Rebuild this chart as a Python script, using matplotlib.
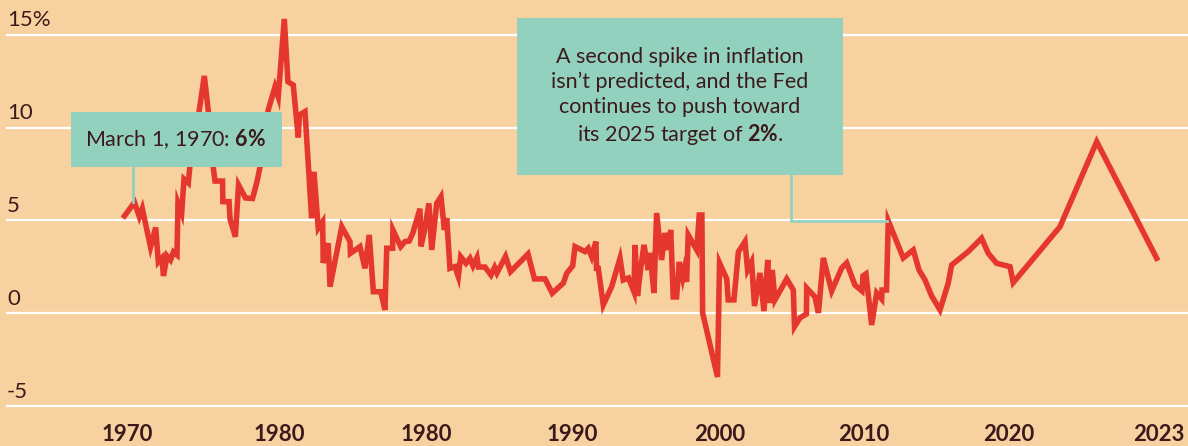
import matplotlib
matplotlib.use("Agg")
import matplotlib.pyplot as plt
from matplotlib.patches import Rectangle

# -----------------------------
# DATA (position along axis, inflation %)
# -----------------------------

pos = [-0.17, 0.51, 0.84, 1.04, 1.60, 1.95, 2.13, 2.38, 2.48, 2.72, 2.96, 3.16, 3.40, 3.47,
       3.72, 3.88, 4.17, 4.32, 4.92, 5.26, 5.53, 5.87, 5.99, 6.50, 6.52, 6.94, 7.01, 7.37,
       7.59, 8.06, 8.54, 8.84, 9.05, 9.61, 10.07, 10.29, 10.70, 10.95, 11.31, 11.65, 11.73,
       12.11, 12.56, 12.72, 13.01, 13.31, 13.35, 13.69, 13.81, 14.61, 15.17, 15.20, 15.85,
       16.19, 16.48, 16.76, 17.26, 17.55, 17.67, 18.07, 18.09, 18.62, 18.91, 19.20, 19.44,
       19.93, 20.00, 20.22, 20.54, 20.73, 21.07, 21.36, 21.59, 21.75, 21.97, 22.31, 22.54,
       22.70, 23.06, 23.33, 23.54, 23.81, 23.91, 24.35, 24.76, 25.01, 25.17, 25.75, 26.09,
       27.28, 27.72, 28.44, 28.93, 29.68, 29.91, 30.32, 30.48, 31.16, 31.38, 31.61, 31.90,
       31.94, 32.06, 32.40, 32.97, 33.54, 33.76, 34.12, 34.49, 34.56, 34.73, 34.95, 35.17,
       35.46, 35.58, 35.85, 36.03, 36.37, 36.60, 36.82, 36.99, 37.16, 37.39, 37.57, 37.80,
       37.91, 38.07, 38.18, 38.76, 38.93, 39.11, 39.16, 40.17, 40.31, 40.80, 40.90, 41.29,
       41.59, 42.04, 42.22, 42.49, 42.69, 43.06, 43.33, 43.59, 43.74, 43.90, 44.08, 44.88,
       45.33, 45.41, 45.78, 46.22, 46.24, 46.80, 47.04, 47.37, 47.94, 48.62, 48.96, 49.52,
       50.00, 50.07, 50.27, 50.66, 51.00, 51.34, 51.36, 51.67, 51.79, 52.81, 53.49, 53.88,
       54.29, 54.74, 55.31, 55.87, 56.10, 57.23, 58.14, 58.59, 59.16, 60.07, 60.29, 63.47,
       65.97, 70.05]

rate = [5.24, 5.97, 5.20, 5.64, 3.57, 4.62, 2.76, 2.98, 2.01, 3.09, 2.87, 3.30, 3.14, 5.94,
        5.40, 7.23, 7.02, 8.26, 10.95, 12.78, 10.89, 7.82, 7.12, 7.12, 6.01, 6.01, 5.08, 4.12,
        6.91, 6.21, 6.18, 7.07, 7.88, 10.95, 12.20, 11.66, 15.85, 12.47, 12.29, 9.47, 10.68,
        10.86, 5.12, 7.62, 4.58, 4.93, 2.71, 3.77, 1.43, 4.66, 3.86, 3.23, 3.59,
        2.42, 4.22, 1.16, 1.16, 0.18, 3.50, 3.50, 4.49, 3.59, 3.86, 3.89, 4.31,
        5.63, 3.60, 4.39, 5.92, 3.41, 5.92, 6.28, 4.49, 5.12, 2.42, 2.51, 1.97,
        3.05, 2.69, 2.96, 2.55, 3.00, 2.49, 2.49, 2.06, 2.47, 2.17, 3.06, 2.24,
        3.19, 1.85, 1.85, 1.08, 1.62, 2.15, 2.55, 3.59, 3.32, 3.50, 3.05, 3.86,
        2.42, 2.42, 0.45, 1.43, 2.96, 1.79, 1.90, 1.15, 3.68, 0.93, 2.44, 3.68,
        2.33, 3.25, 1.09, 5.40, 2.87, 4.32, 3.41, 4.49, 0.88, 0.88, 2.76, 1.90,
        2.33, 1.69, 4.22, 3.41, 5.29, 5.29, 0.02, -3.43, 2.71, 1.85, 0.72, 0.72,
        3.30, 3.86, 2.33, 2.76, 0.39, 2.17, 0.12, 2.87, 0.55, 2.33, 0.72, 1.85,
        1.25, -0.72, -0.25, -0.04, 1.36, 0.88, 0.02, 2.98, 1.20, 2.44, 2.71, 1.52,
        1.20, 2.01, 2.12, -0.63, 1.09, 0.77, 1.25, 1.25, 4.97, 2.98, 3.41, 2.33,
        1.79, 0.93, 0.18, 1.63, 2.60, 3.32, 4.04, 3.23, 2.69, 2.51, 1.65, 4.66,
        9.24, 2.96]

x_ticks = [0, 10.34, 20.34, 30.27, 40.34, 50.14, 60.0, 70.2]
x_labels = ["1970", "1980", "1980", "1990", "2000", "2010", "2020", "2023"]

y_ticks = [15, 10, 5, 0, -5]
y_labels = ["15%", "10", "5", "0", "-5"]

# -----------------------------
# STYLE
# -----------------------------

BG = "#F8D1A0"
RED = "#E5372E"
TEAL = "#93D1BF"
INK = "#3B1A1C"

plt.rcParams["font.family"] = ["Lato", "DejaVu Sans"]
plt.rcParams["mathtext.fontset"] = "custom"
plt.rcParams["mathtext.rm"] = "Lato"
plt.rcParams["mathtext.bf"] = "Lato:bold"

fig = plt.figure(figsize=(11.88, 4.46), dpi=100, facecolor=BG)
ax = fig.add_axes([0, 0.0628, 1, 0.9372])
ax.set_facecolor(BG)
ax.set_xlim(-8.64, 72.18)
ax.set_ylim(-5.64, 16.87)

for s in ax.spines.values():
    s.set_visible(False)

# gridlines + y labels
for v, lab in zip(y_ticks, y_labels):
    ax.axhline(v, xmin=7 / 1188, xmax=1, color="white", lw=1.6, zorder=1)
    ax.text(-8.16, v + 0.45, lab, ha="left", va="baseline", fontsize=16, color=INK)
ax.set_yticks([])

ax.set_xticks(x_ticks, x_labels)
ax.tick_params(axis="x", length=0, pad=4.5, labelsize=16, labelcolor=INK)
for t in ax.get_xticklabels():
    t.set_fontweight("bold")

# -----------------------------
# LINE
# -----------------------------

ax.plot(pos, rate, color=RED, lw=4.0, solid_joinstyle="miter", zorder=3)

# -----------------------------
# ANNOTATIONS
# -----------------------------

ax.plot([0.41, 0.41], [7.88, 5.97], color=TEAL, lw=2, zorder=4)
ax.add_patch(Rectangle((-3.81, 7.88), 14.35, 2.96, facecolor=TEAL, edgecolor="none", zorder=5))
ax.text(3.3, 9.36, r"March 1, 1970: $\mathbf{6\%}$", ha="center", va="center",
        fontsize=15.5, color=INK, zorder=6)

ax.plot([45.17, 45.17, 51.7], [7.45, 4.97, 4.97], color=TEAL, lw=2, zorder=4)
ax.add_patch(Rectangle((26.53, 7.45), 22.18, 8.45, facecolor=TEAL, edgecolor="none", zorder=5))
ax.text(37.6, 11.65,
        "A second spike in inflation\nisn\u2019t predicted, and the Fed\n"
        "continues to push toward\nits 2025 target of $\\mathbf{2\\%}$.",
        ha="center", va="center", fontsize=15.5, color=INK, linespacing=1.3, zorder=6)

fig.savefig("out.png", dpi=100, facecolor=BG)
